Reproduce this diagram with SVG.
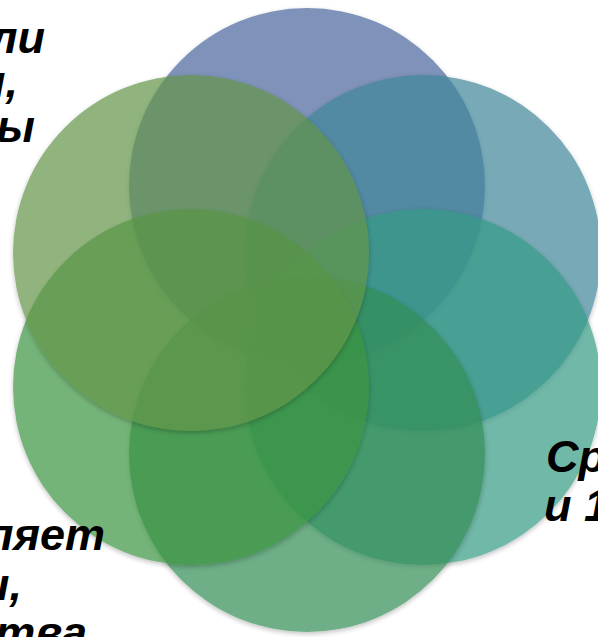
<svg xmlns="http://www.w3.org/2000/svg" width="598" height="637" viewBox="0 0 598 637">
  <defs>
    <filter id="sh" x="-10%" y="-10%" width="120%" height="125%">
      <feDropShadow dx="0" dy="2" stdDeviation="2.5" flood-color="#000" flood-opacity="0.35"/>
    </filter>
  </defs>
  <style>
    .c { opacity: 0.7; filter: url(#sh); }
    .t { font-family: "Liberation Sans", Arial, sans-serif; font-size: 45px; font-weight: bold; font-style: italic; fill: #000; }
    .e { text-anchor: end; }
  </style>
  <rect width="598" height="637" fill="#fff"/>
  <g id="circle-1"><circle class="c" cx="307" cy="186" r="178" fill="#4A659C"/></g>
  <g id="circle-2"><circle class="c" cx="423" cy="253" r="178" fill="#40869A"/></g>
  <g id="circle-3"><circle class="c" cx="423" cy="387" r="178" fill="#349B84"/></g>
  <g id="circle-4"><circle class="c" cx="307" cy="454" r="178" fill="#318E55"/></g>
  <g id="circle-5"><circle class="c" cx="191" cy="387" r="178" fill="#3B9541"/></g>
  <g id="circle-6"><circle class="c" cx="191" cy="253" r="178" fill="#63954A"/></g>
  <g id="labels">
    <g id="label-top-left">
      <text class="t e" x="45" y="53">ли</text>
      <text class="t e" x="18" y="97">ы,</text>
      <text class="t e" x="35" y="142">ы</text>
    </g>
    <g id="label-right">
      <text class="t" x="546" y="472">Ср</text>
      <text class="t" x="544" y="521">и 1</text>
    </g>
    <g id="label-bottom-left">
      <text class="t e" x="105" y="550">ляет</text>
      <text class="t e" x="22" y="600">ы,</text>
      <text class="t e" x="87" y="648">тва</text>
    </g>
  </g>
</svg>
